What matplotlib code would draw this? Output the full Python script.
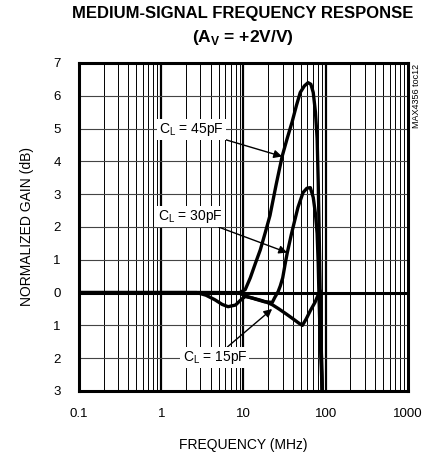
import numpy as np
import matplotlib
matplotlib.use("Agg")
import matplotlib.pyplot as plt
from matplotlib.ticker import FixedLocator, NullFormatter

plt.rcParams['font.family'] = ['Liberation Sans', 'DejaVu Sans']

# curves (frequency in MHz, normalized gain in dB)
f_45 = [0.1, 1, 5, 9, 10.5, 12.1, 14, 16, 18.5, 21, 25, 29.5, 34, 39, 44, 49, 55, 61, 66, 70.5, 75, 78.6, 81, 83, 85.6, 88, 90.6]
g_45 = [0, 0, 0, 0, 0.09, 0.45, 0.9, 1.3, 1.85, 2.35, 3.3, 4.15, 4.7, 5.2, 5.7, 6.1, 6.3, 6.4, 6.35, 6.1, 5.5, 4.7, 3.4, 2.0, 0.0, -1.6, -3.0]

f_30 = [0.1, 1, 5, 9, 10.5, 14, 18, 22.4, 24, 26.4, 28, 30, 32, 34, 38, 42, 46, 53, 59, 65, 70.5, 75, 78.6, 81, 83, 86, 90.6]
g_30 = [0, 0, 0, -0.02, -0.1, -0.2, -0.28, -0.3, -0.15, 0.03, 0.2, 0.45, 0.85, 1.2, 1.75, 2.2, 2.6, 3.05, 3.18, 3.2, 2.9, 2.4, 1.8, 0.9, -0.2, -1.5, -3.0]

f_15 = [0.1, 1, 2.7, 3.5, 4.5, 5.5, 6.5, 8, 9.5, 10.5, 13, 16, 19, 22.4, 27, 33, 40, 47, 52, 58, 65, 74, 80, 86, 88, 90.6]
g_15 = [0, 0, 0, -0.08, -0.22, -0.36, -0.43, -0.38, -0.2, -0.12, -0.17, -0.23, -0.29, -0.37, -0.5, -0.65, -0.8, -0.93, -1.0, -0.8, -0.55, -0.3, -0.1, 0.05, -1.5, -3.0]

yticks = [7, 6, 5, 4, 3, 2, 1, 0, -1, -2, -3]
ytick_labels = ['7', '6', '5', '4', '3', '2', '1', '0', '1', '2', '3']
xticks = [0.1, 1, 10, 100, 1000]
xtick_labels = ['0.1', '1', '10', '100', '1000']

fig = plt.figure(figsize=(4.33, 4.54), dpi=100)
ax = fig.add_axes([0.1824, 0.1388, 0.7598, 0.7225])

ax.set_xscale('log')
ax.set_xlim(0.1, 1000)
ax.set_ylim(-3, 7)

# grid: thin minor verticals, thick decade lines, thin horizontals, thick 0 dB
minor = [m * 10.0 ** e for e in range(-1, 3) for m in range(2, 10)]
for x in minor:
    ax.axvline(x, color='black', lw=0.7, zorder=1)
for x in [1, 10, 100]:
    ax.axvline(x, color='black', lw=1.6, zorder=1)
for y in yticks:
    ax.axhline(y, color='#444444', lw=0.8, zorder=1)
ax.axhline(0, color='black', lw=2.2, zorder=1)

for f, g in [(f_45, g_45), (f_30, g_30), (f_15, g_15)]:
    ax.plot(f, g, color='black', lw=2.4, solid_capstyle='butt', solid_joinstyle='round', zorder=3)

ax.xaxis.set_major_locator(FixedLocator(xticks))
ax.xaxis.set_minor_locator(FixedLocator(minor))
ax.xaxis.set_minor_formatter(NullFormatter())
ax.set_xticklabels(xtick_labels)
ax.set_yticks(yticks)
ax.set_yticklabels(ytick_labels)
ax.tick_params(axis='y', which='both', length=0, labelsize=9.5, pad=13)
ax.tick_params(axis='x', which='both', length=0, labelsize=9.5, pad=12)
for s in ax.spines.values():
    s.set_linewidth(2.2)

ax.set_xlabel('FREQUENCY (MHz)', fontsize=10, labelpad=13)
ax.set_ylabel('NORMALIZED GAIN (dB)', fontsize=10, labelpad=14)

fig.text(0.56, 0.971, 'MEDIUM-SIGNAL FREQUENCY RESPONSE', ha='center', va='center',
         fontsize=12, fontweight='bold')
fig.text(0.56, 0.918, r'(A$_\mathregular{V}$ = +2V/V)', ha='center', va='center',
         fontsize=12.5, fontweight='bold')
fig.text(0.963, 0.788, 'MAX4356 toc12', rotation=90, ha='center', va='center', fontsize=6.5)

box = dict(facecolor='white', edgecolor='none', pad=1.5)
arrow = dict(arrowstyle='-|>', color='black', lw=1.0, mutation_scale=12, shrinkA=0, shrinkB=0)
ax.annotate(r'C$_\mathregular{L}$ = 45pF', xy=(29.5, 4.15), xytext=(2.32, 4.97),
            ha='center', va='center', fontsize=10, bbox=box, arrowprops=arrow, zorder=4)
ax.annotate(r'C$_\mathregular{L}$ = 30pF', xy=(34, 1.22), xytext=(2.25, 2.32),
            ha='center', va='center', fontsize=10, bbox=box, arrowprops=arrow, zorder=4)
ax.annotate(r'C$_\mathregular{L}$ = 15pF', xy=(22.3, -0.5), xytext=(4.5, -1.98),
            ha='center', va='center', fontsize=10, bbox=box, arrowprops=arrow, zorder=4)

fig.savefig('out.png', dpi=100)
